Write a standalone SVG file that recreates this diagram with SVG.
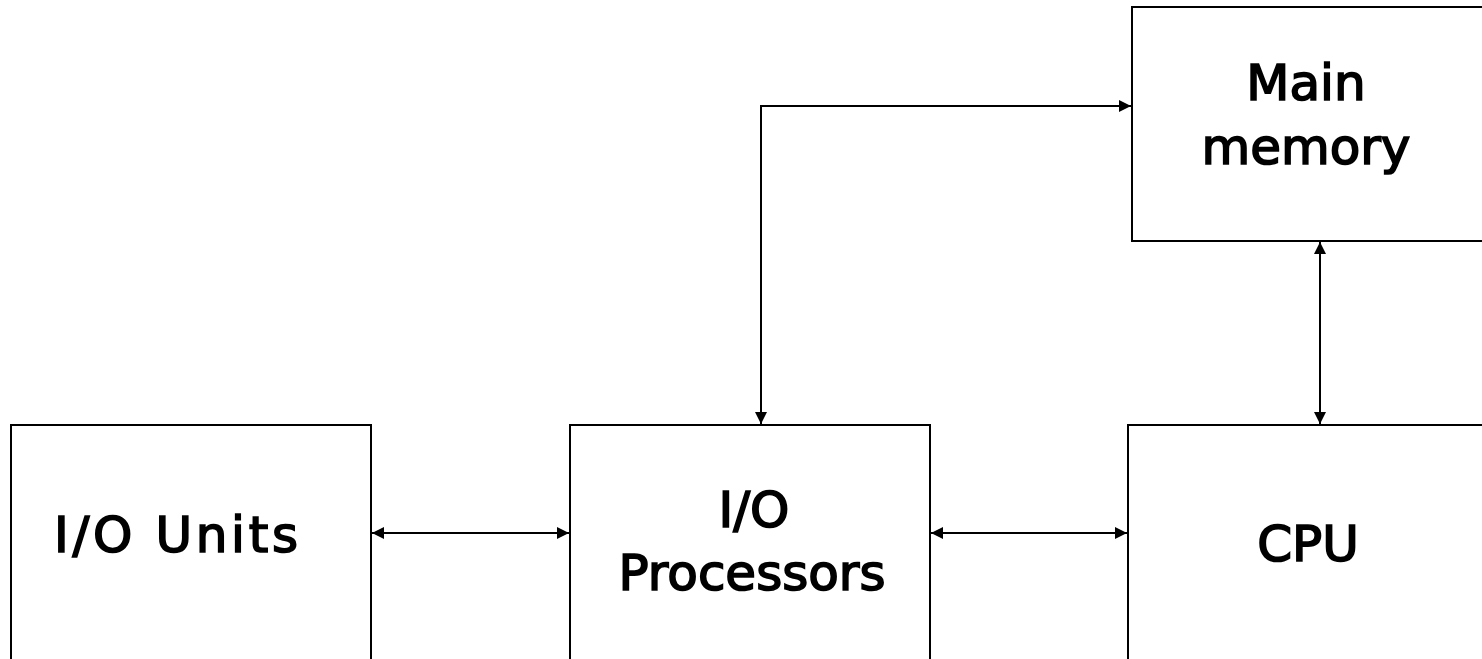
<svg xmlns="http://www.w3.org/2000/svg" width="1482" height="659" viewBox="0 0 1482 659">
<style>
.box{fill:#fff;stroke:#000;stroke-width:2}
.lbl{font-family:"DejaVu Sans",Verdana,sans-serif;font-size:50px;fill:#000;stroke:#000;stroke-width:1.7;text-anchor:middle}
.con{fill:none;stroke:#000;stroke-width:2}
</style>
<defs>
<marker id="ah" viewBox="0 0 10 10" refX="10" refY="5" markerWidth="15" markerHeight="12" markerUnits="userSpaceOnUse" orient="auto-start-reverse">
<path d="M0,0 L10,5 L0,10 Z" fill="#000"/>
</marker>
</defs>
<rect width="1482" height="659" fill="#fff"/>
<g id="main-memory">
<rect class="box" x="1132" y="7" width="360" height="234"/>
<text class="lbl" x="1306" y="100">Main</text>
<text class="lbl" x="1306" y="164">memory</text>
</g>
<g id="io-units">
<rect class="box" x="11" y="425" width="360" height="250"/>
<text class="lbl" x="176" y="552" textLength="244" lengthAdjust="spacing">I/O Units</text>
</g>
<g id="io-processors">
<rect class="box" x="570" y="425" width="360" height="250"/>
<text class="lbl" x="754" y="527">I/O</text>
<text class="lbl" x="752" y="590">Processors</text>
</g>
<g id="cpu">
<rect class="box" x="1128" y="425" width="360" height="250"/>
<text class="lbl" x="1308" y="561">CPU</text>
</g>
<g id="connectors">
<line class="con" x1="372" y1="533" x2="569" y2="533" marker-start="url(#ah)" marker-end="url(#ah)"/>
<line class="con" x1="931" y1="533" x2="1127" y2="533" marker-start="url(#ah)" marker-end="url(#ah)"/>
<line class="con" x1="1320" y1="242" x2="1320" y2="424" marker-start="url(#ah)" marker-end="url(#ah)"/>
<polyline class="con" points="761,424 761,106 1131,106" marker-start="url(#ah)" marker-end="url(#ah)"/>
</g>
</svg>
